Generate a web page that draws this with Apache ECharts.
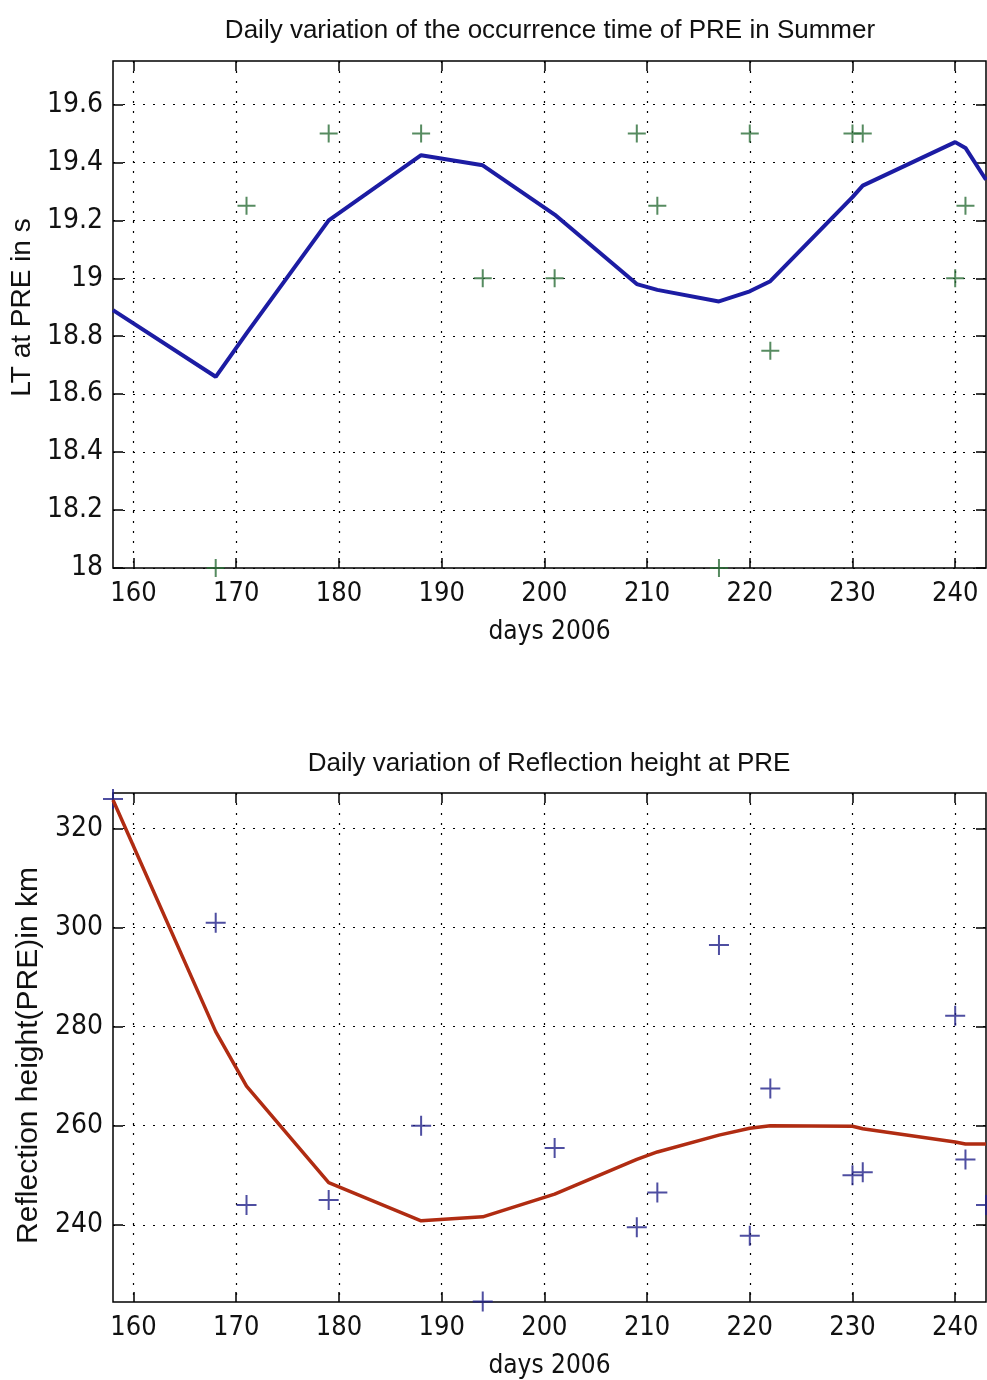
<!DOCTYPE html>
<html>
<head>
<meta charset="utf-8">
<title>Daily variation of PRE</title>
<script src="https://cdn.jsdelivr.net/npm/echarts@6/dist/echarts.min.js"></script>
<style>
  html, body { margin: 0; padding: 0; background: #fff; }
  #chart { width: 987px; height: 1380px; }
</style>
</head>
<body>
<div id="chart"></div>
<script>
// top panel: local time of PRE occurrence
const ltObsDays = [168, 171, 179, 188, 194, 201, 209, 211, 217, 220, 222, 230, 231, 240, 241]
const ltObs = [18.0, 19.25, 19.5, 19.5, 19.0, 19.0, 19.5, 19.25, 18.0, 19.5, 18.75, 19.5, 19.5, 19.0, 19.25]
const ltFitDays = [158, 168, 171, 179, 188, 194, 201, 209, 211, 217, 220, 222, 230, 231, 240, 241, 243]
const ltFit = [18.89, 18.66, 18.81, 19.2, 19.425, 19.39, 19.22, 18.98, 18.96, 18.92, 18.955, 18.99, 19.28, 19.32, 19.47, 19.45, 19.34]

// bottom panel: reflection height at PRE
const hObsDays = [158, 168, 171, 179, 188, 194, 201, 209, 211, 217, 220, 222, 230, 231, 240, 241, 243]
const hObs = [326, 301, 244, 245, 260, 224.5, 255.5, 239.5, 246.5, 296.5, 237.8, 267.5, 250, 250.6, 282.2, 253.2, 244]
const hFitDays = [158, 168, 171, 179, 188, 194, 201, 209, 211, 217, 220, 222, 230, 231, 240, 241, 243]
const hFit = [325.8, 279, 268, 248.5, 240.8, 241.6, 246.2, 253.2, 254.7, 258.1, 259.5, 260, 259.9, 259.4, 256.7, 256.3, 256.3]

// tick labels
const dayTicks = [160, 170, 180, 190, 200, 210, 220, 230, 240]
const ltTicks = [18, 18.2, 18.4, 18.6, 18.8, 19, 19.2, 19.4, 19.6]
const hTicks = [240, 260, 280, 300, 320]

const FONT = 'Liberation Sans, Arial, sans-serif'
const NARROW = 'Liberation Sans Narrow, DejaVu Sans Condensed, Liberation Sans, sans-serif'
const plus = 'path://M5,0 L5,10 M0,5 L10,5'
const dotted = { color: '#000', width: 1.2, type: [2, 8] }
const tickStyle = { color: '#000', width: 1.5 }

function pairs (xs, ys) {
  return xs.map((x, i) => [x, ys[i]])
}

// main axis with labels + grid, and a mirrored one for the inner ticks on the opposite side
function xAxes (gridIndex, name) {
  return [{
    type: 'value', gridIndex, min: 158, max: 243, position: 'bottom',
    name, nameLocation: 'middle', nameGap: 51,
    nameTextStyle: { fontFamily: NARROW, fontSize: 26, color: '#111' },
    axisLine: { show: false },
    axisTick: { inside: true, length: 10, customValues: dayTicks, lineStyle: tickStyle },
    axisLabel: { customValues: dayTicks, margin: 12, fontFamily: NARROW, fontSize: 27, color: '#111' },
    splitLine: { show: true, lineStyle: dotted }
  }, {
    type: 'value', gridIndex, min: 158, max: 243, position: 'top',
    axisLine: { show: false },
    axisTick: { inside: true, length: 10, customValues: dayTicks, lineStyle: tickStyle },
    axisLabel: { show: false },
    splitLine: { show: false }
  }]
}

function yAxes (gridIndex, min, max, ticks, name, gap, nameSize, namePad) {
  return [{
    type: 'value', gridIndex, min, max, position: 'left',
    name, nameLocation: 'middle', nameGap: gap,
    nameTextStyle: { fontFamily: FONT, fontSize: nameSize, color: '#111', padding: namePad },
    axisLine: { show: false },
    axisTick: { inside: true, length: 10, customValues: ticks, lineStyle: tickStyle },
    axisLabel: { customValues: ticks, margin: 10, fontFamily: NARROW, fontSize: 28, color: '#111' },
    splitLine: { show: true, lineStyle: dotted }
  }, {
    type: 'value', gridIndex, min, max, position: 'right',
    axisLine: { show: false },
    axisTick: { inside: true, length: 10, customValues: ticks, lineStyle: tickStyle },
    axisLabel: { show: false },
    splitLine: { show: false }
  }]
}

const chart = echarts.init(document.getElementById('chart'), null, { renderer: 'canvas' })

chart.setOption({
  backgroundColor: '#fff',
  animation: false,
  title: [{
    text: 'Daily variation of the occurrence time of PRE in Summer',
    left: 545, top: 13, textAlign: 'center',
    textStyle: { fontFamily: FONT, fontSize: 26, fontWeight: 'normal', color: '#111' }
  }, {
    text: 'Daily variation of Reflection height at PRE',
    left: 544, top: 746, textAlign: 'center',
    textStyle: { fontFamily: FONT, fontSize: 26, fontWeight: 'normal', color: '#111' }
  }],
  grid: [
    { left: 113, top: 61, width: 873, height: 507, show: true, borderColor: '#000', borderWidth: 1.5, backgroundColor: '#fff' },
    { left: 113, top: 793, width: 873, height: 510, show: true, borderColor: '#000', borderWidth: 1.5, backgroundColor: '#fff' }
  ],
  xAxis: [...xAxes(0, 'days 2006'), ...xAxes(1, 'days 2006')],
  yAxis: [
    ...yAxes(0, 18, 19.75, ltTicks, 'LT at PRE in s', 74, 28, [0, 0, 0, 14]),
    ...yAxes(1, 224.4, 327.2, hTicks, 'Reflection height(PRE)in km', 66, 30, [0, 16, 0, 0])
  ],
  series: [{
    type: 'line', xAxisIndex: 0, yAxisIndex: 0,
    data: pairs(ltFitDays, ltFit),
    showSymbol: false,
    lineStyle: { color: '#1c1ca3', width: 4 }
  }, {
    type: 'scatter', xAxisIndex: 0, yAxisIndex: 0, clip: false,
    data: pairs(ltObsDays, ltObs),
    symbol: plus, symbolSize: 18,
    itemStyle: { color: 'rgba(0,0,0,0)', borderColor: '#2c6e38', borderWidth: 2 }
  }, {
    type: 'line', xAxisIndex: 2, yAxisIndex: 2,
    data: pairs(hFitDays, hFit),
    showSymbol: false,
    lineStyle: { color: '#b02c12', width: 3.5 }
  }, {
    type: 'scatter', xAxisIndex: 2, yAxisIndex: 2, clip: false,
    data: pairs(hObsDays, hObs),
    symbol: plus, symbolSize: 20,
    itemStyle: { color: 'rgba(0,0,0,0)', borderColor: '#22228a', borderWidth: 2 }
  }]
})
</script>
</body>
</html>
